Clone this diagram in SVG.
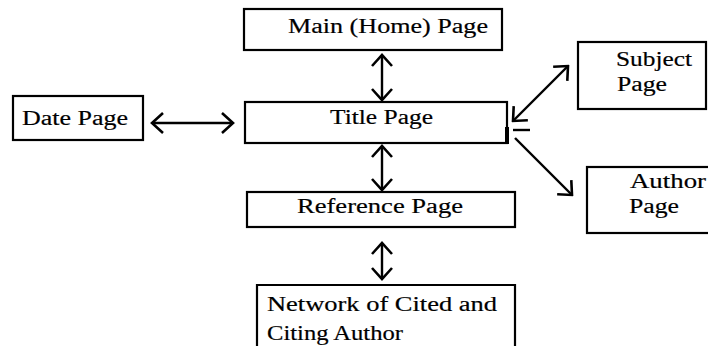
<svg xmlns="http://www.w3.org/2000/svg" width="708" height="346" viewBox="0 0 708 346">
<defs>
<marker id="ah" viewBox="0 0 14 24" refX="12" refY="12" markerWidth="14" markerHeight="24" markerUnits="userSpaceOnUse" orient="auto-start-reverse">
<polyline points="1,2 12,12 1,22" fill="none" stroke="#000" stroke-width="2.6"/>
</marker>
<style>
.box{fill:#fff;stroke:#000;stroke-width:2.2}
.t{font-family:"Liberation Serif","DejaVu Serif",serif;font-size:20px;fill:#000;stroke:#000;stroke-width:0.18}
.c{fill:none;stroke:#000;stroke-width:2.4}
</style>
</defs>
<rect width="708" height="346" fill="#fff"/>
<g id="main">
<rect class="box" x="244" y="9" width="258" height="41"/>
<text class="t" x="288" y="33" textLength="200" lengthAdjust="spacingAndGlyphs">Main (Home) Page</text>
</g>
<g id="title">
<rect class="box" x="245" y="102" width="262" height="41"/>
<text class="t" x="330" y="124" textLength="103" lengthAdjust="spacingAndGlyphs">Title Page</text>
<line x1="507" y1="127" x2="507" y2="144" stroke="#000" stroke-width="4"/>
</g>
<g id="date">
<rect class="box" x="13" y="96" width="130" height="44"/>
<text class="t" x="22" y="125" textLength="106" lengthAdjust="spacingAndGlyphs">Date Page</text>
</g>
<g id="reference">
<rect class="box" x="247" y="192" width="268" height="35"/>
<text class="t" x="297" y="213" textLength="166" lengthAdjust="spacingAndGlyphs">Reference Page</text>
</g>
<g id="network">
<path class="box" d="M257,348 V285 H515 V348"/>
<text class="t" x="267" y="311" textLength="230" lengthAdjust="spacingAndGlyphs">Network of Cited and</text>
<text class="t" x="267" y="340" textLength="136" lengthAdjust="spacingAndGlyphs">Citing Author</text>
</g>
<g id="subject">
<rect class="box" x="578" y="42" width="128" height="67"/>
<text class="t" x="616" y="66" textLength="76" lengthAdjust="spacingAndGlyphs">Subject</text>
<text class="t" x="617" y="91" textLength="50" lengthAdjust="spacingAndGlyphs">Page</text>
</g>
<g id="author">
<rect class="box" x="587" y="167" width="123" height="66"/>
<text class="t" x="630" y="188" textLength="76" lengthAdjust="spacingAndGlyphs">Author</text>
<text class="t" x="629" y="213" textLength="50" lengthAdjust="spacingAndGlyphs">Page</text>
</g>
<g id="connectors">
<line class="c" x1="382" y1="55" x2="382" y2="100" marker-start="url(#ah)" marker-end="url(#ah)"/>
<line class="c" x1="382" y1="146" x2="382" y2="190" marker-start="url(#ah)" marker-end="url(#ah)"/>
<line class="c" x1="382" y1="243" x2="382" y2="279" marker-start="url(#ah)" marker-end="url(#ah)"/>
<line class="c" x1="152" y1="123" x2="233" y2="123" marker-start="url(#ah)" marker-end="url(#ah)"/>
<line class="c" x1="513" y1="121" x2="568" y2="66" marker-start="url(#ah)" marker-end="url(#ah)"/>
<line class="c" x1="515" y1="138" x2="572" y2="195" marker-end="url(#ah)"/>
<line class="c" x1="513" y1="130" x2="530" y2="130"/>
</g>
</svg>
